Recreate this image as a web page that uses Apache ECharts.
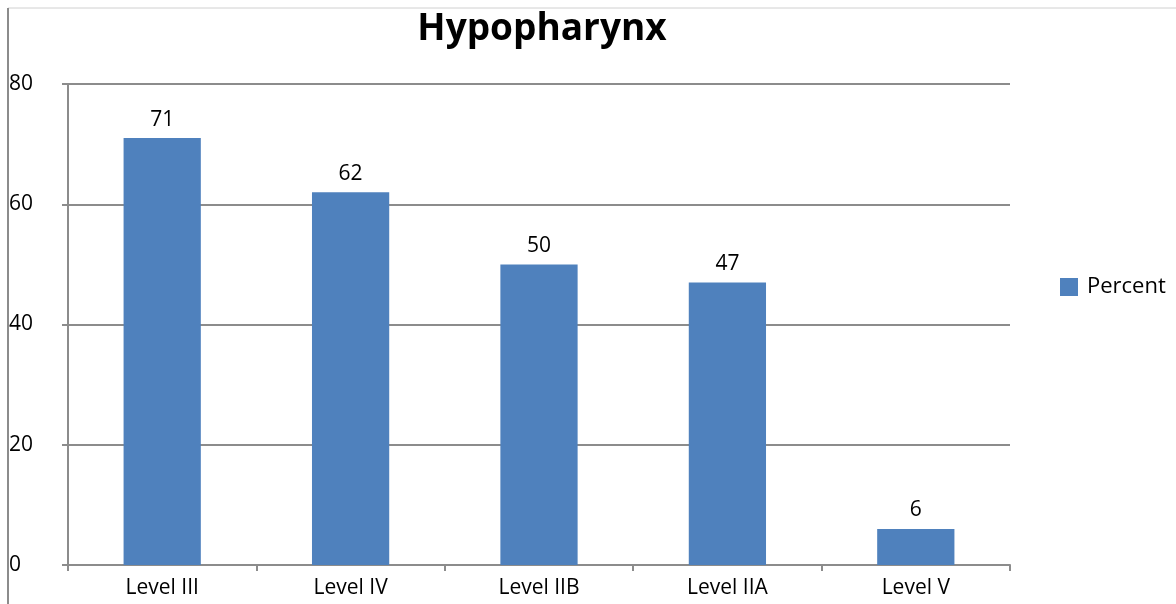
<!DOCTYPE html>
<html><head><meta charset="utf-8">
<script src="https://cdn.jsdelivr.net/npm/echarts@6/dist/echarts.min.js"></script>
<style>html,body{margin:0;padding:0;background:#fff}#c{width:1176px;height:604px}</style>
</head><body><div id="c"></div>
<script>
const categories = ["Level III", "Level IV", "Level IIB", "Level IIA", "Level V"];
const percentValues = [71, 62, 50, 47, 6];
const yTicks = [0, 20, 40, 60, 80];
const seriesName = "Percent";
const titleText = "Hypopharynx";

const FONT = "Open Sans";
const chart = echarts.init(document.getElementById('c'), null, {renderer: 'canvas'});
chart.setOption({
  animation: false,
  backgroundColor: '#ffffff',
  textStyle: {fontFamily: FONT},
  title: {
    text: titleText, left: 537, top: 6, textAlign: 'center',
    textStyle: {fontFamily: FONT, fontWeight: 'bold', fontSize: 37, color: '#000'}
  },
  legend: {
    data: [seriesName], left: 1055, top: 271, orient: 'vertical',
    itemWidth: 18, itemHeight: 18, itemGap: 10, icon: 'rect',
    textStyle: {fontFamily: FONT, fontSize: 22, color: '#000', padding: [0,0,0,4]}
  },
  grid: {left: 68, right: 166, top: 84, bottom: 39, containLabel: false},
  xAxis: {
    type: 'category', data: categories,
    axisLine: {lineStyle: {color: '#8c8c8c', width: 2}},
    axisTick: {show: true, length: 6, alignWithLabel: false, lineStyle: {color: '#8c8c8c', width: 2}},
    axisLabel: {fontFamily: FONT, fontSize: 21, color: '#000', margin: 13}
  },
  yAxis: {
    type: 'value', min: yTicks[0], max: yTicks[yTicks.length-1], interval: 20,
    axisLine: {show: true, lineStyle: {color: '#8c8c8c', width: 2}},
    axisTick: {show: true, length: 6, lineStyle: {color: '#8c8c8c', width: 2}},
    splitLine: {show: true, lineStyle: {color: '#8c8c8c', width: 2}},
    axisLabel: {fontFamily: FONT, fontSize: 21, color: '#000', align: 'left', margin: 59}
  },
  series: [{
    name: seriesName, type: 'bar', data: percentValues, barWidth: '41%',
    itemStyle: {color: '#4F81BD'},
    label: {show: true, position: 'top', distance: 8, fontFamily: FONT, fontSize: 21, color: '#000'}
  }],
  graphic: [
    {type: 'line', shape: {x1: 8, y1: 8, x2: 1176, y2: 8}, style: {stroke: '#d0d0d0', lineWidth: 1}, silent: true},
    {type: 'line', shape: {x1: 8, y1: 8, x2: 8, y2: 604}, style: {stroke: '#8c8c8c', lineWidth: 2}, silent: true}
  ]
});
</script></body></html>
